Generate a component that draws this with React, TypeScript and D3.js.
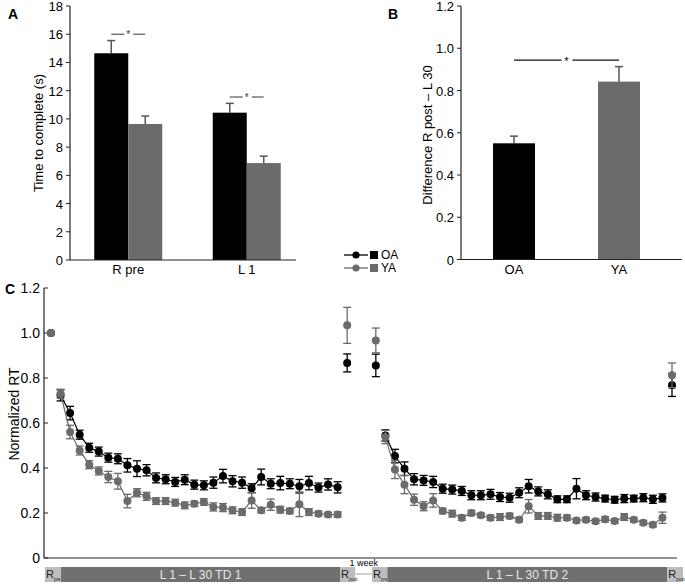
import React from 'react';
import * as d3 from 'd3';

const FONT = '"Liberation Sans", Arial, sans-serif';
const BLACK = '#000000';
const GRAY = '#6b6b6b';
const ERRGRAY = '#555555';

// ---------- Panel A ----------
const catsA = ['R pre', 'L 1'];
const meanA_OA = [14.65, 10.44];
const errA_OA = [0.9, 0.66];
const meanA_YA = [9.64, 6.87];
const errA_YA = [0.56, 0.49];
const ticksA = [0, 2, 4, 6, 8, 10, 12, 14, 16, 18];
const sigA = [16.0, 11.55];

// ---------- Panel B ----------
const catsB = ['OA', 'YA'];
const meanB = [0.55, 0.842];
const errB = [0.034, 0.071];
const ticksB = [0, 0.2, 0.4, 0.6, 0.8, 1.0, 1.2];
const sigB = 0.944;

// ---------- Panel C ----------
const ticksC = [0, 0.2, 0.4, 0.6, 0.8, 1.0, 1.2];
const rpre1_OA = 1.0;
const rpre1_YA = 1.0;
const oa1 = [0.723, 0.644, 0.548, 0.49, 0.473, 0.446, 0.441, 0.412, 0.397, 0.39, 0.356, 0.35, 0.338, 0.348, 0.326, 0.323, 0.335, 0.364, 0.341, 0.335, 0.31, 0.36, 0.33, 0.333, 0.33, 0.319, 0.333, 0.313, 0.327, 0.314];
const oa1Err = [0.025, 0.03, 0.02, 0.02, 0.02, 0.02, 0.022, 0.03, 0.035, 0.025, 0.022, 0.02, 0.02, 0.022, 0.02, 0.02, 0.025, 0.03, 0.025, 0.025, 0.02, 0.035, 0.022, 0.03, 0.022, 0.03, 0.03, 0.02, 0.025, 0.025];
const ya1 = [0.73, 0.56, 0.478, 0.415, 0.387, 0.36, 0.341, 0.253, 0.29, 0.274, 0.253, 0.253, 0.246, 0.234, 0.241, 0.249, 0.227, 0.224, 0.212, 0.204, 0.256, 0.212, 0.237, 0.215, 0.209, 0.239, 0.204, 0.197, 0.193, 0.193];
const ya1Err = [0.02, 0.03, 0.02, 0.018, 0.018, 0.025, 0.035, 0.03, 0.018, 0.018, 0.015, 0.015, 0.015, 0.015, 0.012, 0.015, 0.018, 0.018, 0.015, 0.015, 0.035, 0.012, 0.025, 0.015, 0.012, 0.055, 0.015, 0.012, 0.01, 0.012];
const rpost1_OA = 0.867;
const rpost1_OAErr = 0.04;
const rpost1_YA = 1.034;
const rpost1_YAErr = 0.08;
const rpre2_OA = 0.856;
const rpre2_OAErr = 0.05;
const rpre2_YA = 0.967;
const rpre2_YAErr = 0.055;
const oa2 = [0.545, 0.453, 0.397, 0.35, 0.345, 0.338, 0.308, 0.304, 0.298, 0.279, 0.279, 0.283, 0.271, 0.268, 0.29, 0.319, 0.296, 0.283, 0.261, 0.261, 0.308, 0.279, 0.271, 0.264, 0.259, 0.264, 0.264, 0.268, 0.261, 0.267];
const oa2Err = [0.025, 0.03, 0.03, 0.025, 0.022, 0.025, 0.02, 0.02, 0.02, 0.02, 0.02, 0.022, 0.02, 0.02, 0.022, 0.03, 0.02, 0.02, 0.015, 0.015, 0.045, 0.02, 0.018, 0.015, 0.015, 0.018, 0.015, 0.018, 0.018, 0.018];
const ya2 = [0.538, 0.393, 0.326, 0.259, 0.23, 0.256, 0.209, 0.197, 0.179, 0.2, 0.19, 0.179, 0.182, 0.187, 0.17, 0.23, 0.187, 0.187, 0.179, 0.179, 0.167, 0.17, 0.163, 0.172, 0.164, 0.182, 0.17, 0.157, 0.148, 0.179];
const ya2Err = [0.03, 0.04, 0.04, 0.025, 0.02, 0.03, 0.012, 0.015, 0.012, 0.012, 0.01, 0.012, 0.015, 0.012, 0.01, 0.03, 0.015, 0.015, 0.015, 0.012, 0.01, 0.01, 0.01, 0.012, 0.01, 0.015, 0.01, 0.01, 0.01, 0.025];
const rpost2_OA = 0.768;
const rpost2_OAErr = 0.05;
const rpost2_YA = 0.812;
const rpost2_YAErr = 0.055;

const barLabels = ['L 1 \u2013 L 30 TD 1', 'L 1 \u2013 L 30 TD 2'];

type Pt = { i: number; v: number; e: number };

function buildSeries(
  rpre1: number, s1: number[], e1: number[], rpost1: number, rpost1e: number,
  rpre2: number, rpre2e: number, s2: number[], e2: number[], rpost2: number, rpost2e: number
) {
  const first: Pt[] = s1.map((v, k) => ({ i: 1 + k, v, e: e1[k] }));
  const second: Pt[] = s2.map((v, k) => ({ i: 35 + k, v, e: e2[k] }));
  const singles: Pt[] = [
    { i: 0, v: rpre1, e: 0 },
    { i: 31, v: rpost1, e: rpost1e },
    { i: 34, v: rpre2, e: rpre2e },
    { i: 65, v: rpost2, e: rpost2e },
  ];
  return { first, second, singles };
}

const seriesOA = buildSeries(rpre1_OA, oa1, oa1Err, rpost1_OA, rpost1_OAErr, rpre2_OA, rpre2_OAErr, oa2, oa2Err, rpost2_OA, rpost2_OAErr);
const seriesYA = buildSeries(rpre1_YA, ya1, ya1Err, rpost1_YA, rpost1_YAErr, rpre2_YA, rpre2_YAErr, ya2, ya2Err, rpost2_YA, rpost2_YAErr);

function PanelA() {
  const x0 = 70, x1 = 296;
  const y = d3.scaleLinear().domain([0, 18]).range([260, 6]);
  const xc = d3.scaleBand().domain(catsA).range([69, 306]);
  const bw = 34;
  const centers = catsA.map((c) => (xc(c) as number) + xc.bandwidth() / 2);
  return (
    <g>
      <text x={8} y={19} fontFamily={FONT} fontWeight="bold" fontSize={14}>A</text>
      {catsA.map((c, k) => {
        const cx = centers[k];
        const items = [
          { v: meanA_OA[k], e: errA_OA[k], col: BLACK, x: cx - bw },
          { v: meanA_YA[k], e: errA_YA[k], col: GRAY, x: cx },
        ];
        return (
          <g key={c}>
            {items.map((it, j) => (
              <g key={j}>
                <line x1={it.x + bw / 2} x2={it.x + bw / 2} y1={y(it.v)} y2={y(it.v + it.e)} stroke={ERRGRAY} strokeWidth={1.5} />
                <line x1={it.x + bw / 2 - 4} x2={it.x + bw / 2 + 4} y1={y(it.v + it.e)} y2={y(it.v + it.e)} stroke={ERRGRAY} strokeWidth={1.5} />
                <rect x={it.x} y={y(it.v)} width={bw} height={y(0) - y(it.v)} fill={it.col} />
              </g>
            ))}
            <line x1={cx - bw / 2} x2={cx - 4} y1={y(sigA[k])} y2={y(sigA[k])} stroke={ERRGRAY} strokeWidth={1.2} />
            <line x1={cx + 5} x2={cx + bw / 2} y1={y(sigA[k])} y2={y(sigA[k])} stroke={ERRGRAY} strokeWidth={1.2} />
            <text x={cx} y={y(sigA[k]) + 4} textAnchor="middle" fontFamily={FONT} fontSize={10} fill="#333">*</text>
            <text x={cx} y={274} textAnchor="middle" fontFamily={FONT} fontSize={13}>{c}</text>
          </g>
        );
      })}
      <line x1={x0} x2={x0} y1={y(18)} y2={y(0)} stroke="#222" strokeWidth={1.2} />
      <line x1={x0} x2={x1} y1={y(0)} y2={y(0)} stroke="#222" strokeWidth={1.2} />
      {ticksA.map((t) => (
        <g key={t}>
          <line x1={x0 - 4} x2={x0} y1={y(t)} y2={y(t)} stroke="#222" />
          <text x={x0 - 7} y={y(t) + 5} textAnchor="end" fontFamily={FONT} fontSize={13}>{t}</text>
        </g>
      ))}
      <text transform={`translate(43,${133}) rotate(-90)`} textAnchor="middle" fontFamily={FONT} fontSize={13}>Time to complete (s)</text>
    </g>
  );
}

function PanelB() {
  const x0 = 461, x1 = 682;
  const y = d3.scaleLinear().domain([0, 1.2]).range([259.5, 6]);
  const xc = d3.scaleBand().domain(catsB).range([461, 672]).paddingInner(0.6).paddingOuter(0.305);
  const bw = xc.bandwidth();
  const cols = [BLACK, GRAY];
  const cx = catsB.map((c) => (xc(c) as number) + bw / 2);
  return (
    <g>
      <text x={388} y={19} fontFamily={FONT} fontWeight="bold" fontSize={14}>B</text>
      {catsB.map((c, k) => (
        <g key={c}>
          <line x1={cx[k]} x2={cx[k]} y1={y(meanB[k])} y2={y(meanB[k] + errB[k])} stroke={ERRGRAY} strokeWidth={1.5} />
          <line x1={cx[k] - 4} x2={cx[k] + 4} y1={y(meanB[k] + errB[k])} y2={y(meanB[k] + errB[k])} stroke={ERRGRAY} strokeWidth={1.5} />
          <rect x={xc(c)} y={y(meanB[k])} width={bw} height={y(0) - y(meanB[k])} fill={cols[k]} />
          <text x={cx[k]} y={274} textAnchor="middle" fontFamily={FONT} fontSize={13}>{c}</text>
        </g>
      ))}
      <line x1={cx[0]} x2={(cx[0] + cx[1]) / 2 - 5} y1={y(sigB)} y2={y(sigB)} stroke="#111" strokeWidth={1.2} />
      <line x1={(cx[0] + cx[1]) / 2 + 6} x2={cx[1]} y1={y(sigB)} y2={y(sigB)} stroke="#111" strokeWidth={1.2} />
      <text x={(cx[0] + cx[1]) / 2} y={y(sigB) + 5} textAnchor="middle" fontFamily={FONT} fontSize={11}>*</text>
      <line x1={x0} x2={x0} y1={y(1.2)} y2={y(0)} stroke="#222" strokeWidth={1.2} />
      <line x1={x0} x2={x1} y1={y(0)} y2={y(0)} stroke="#222" strokeWidth={1.2} />
      {ticksB.map((t) => (
        <g key={t}>
          <line x1={x0 - 4} x2={x0} y1={y(t)} y2={y(t)} stroke="#222" />
          <text x={x0 - 7} y={y(t) + 5} textAnchor="end" fontFamily={FONT} fontSize={13}>{t === 0 ? '0' : t.toFixed(1)}</text>
        </g>
      ))}
      <text transform={`translate(432,${135}) rotate(-90)`} textAnchor="middle" fontFamily={FONT} fontSize={13}>{'Difference  R post \u2013 L 30'}</text>
    </g>
  );
}

function Legend() {
  const rows = [
    { name: 'OA', col: BLACK, y: 255 },
    { name: 'YA', col: GRAY, y: 268 },
  ];
  return (
    <g>
      {rows.map((r) => (
        <g key={r.name}>
          <line x1={344} x2={368} y1={r.y} y2={r.y} stroke={r.col} strokeWidth={1.3} />
          <circle cx={356} cy={r.y} r={3.6} fill={r.col} />
          <rect x={370} y={r.y - 4} width={8} height={8} fill={r.col} />
          <text x={381} y={r.y + 4} fontFamily={FONT} fontSize={12}>{r.name}</text>
        </g>
      ))}
    </g>
  );
}

function PanelC() {
  const x = d3.scaleLinear().domain([0, 65]).range([51, 672]);
  const y = d3.scaleLinear().domain([0, 1.2]).range([558, 288]);
  const x0 = 44;
  const line = d3.line<Pt>().x((d) => x(d.i)).y((d) => y(d.v));
  const drawSeries = (s: typeof seriesOA, col: string, key: string) => {
    const all = [...s.first, ...s.second, ...s.singles];
    return (
      <g key={key}>
        <path d={line(s.first) || ''} fill="none" stroke={col} strokeWidth={1.2} />
        <path d={line(s.second) || ''} fill="none" stroke={col} strokeWidth={1.2} />
        {all.map((d, k) => (
          d.e > 0 ? (
            <g key={k}>
              <line x1={x(d.i)} x2={x(d.i)} y1={y(d.v - d.e)} y2={y(d.v + d.e)} stroke={col} strokeWidth={1.3} />
              <line x1={x(d.i) - 4} x2={x(d.i) + 4} y1={y(d.v - d.e)} y2={y(d.v - d.e)} stroke={col} strokeWidth={1.3} />
              <line x1={x(d.i) - 4} x2={x(d.i) + 4} y1={y(d.v + d.e)} y2={y(d.v + d.e)} stroke={col} strokeWidth={1.3} />
            </g>
          ) : null
        ))}
        {all.map((d, k) => (
          <circle key={'c' + k} cx={x(d.i)} cy={y(d.v)} r={4} fill={col} />
        ))}
      </g>
    );
  };
  const segs = [
    { a: -0.63, b: 1.05, kind: 'light', sub: 'pre' },
    { a: 1.05, b: 30.25, kind: 'dark', label: barLabels[0] },
    { a: 30.25, b: 31.85, kind: 'light', sub: 'post' },
    { a: 33.6, b: 35.2, kind: 'light', sub: 'pre' },
    { a: 35.2, b: 64.5, kind: 'dark', label: barLabels[1] },
    { a: 64.5, b: 66.15, kind: 'light', sub: 'post' },
  ];
  return (
    <g>
      <text x={5} y={294} fontFamily={FONT} fontWeight="bold" fontSize={14}>C</text>
      <line x1={x0} x2={x0} y1={y(1.2)} y2={y(0)} stroke="#222" strokeWidth={1.2} />
      <line x1={x0} x2={677} y1={y(0)} y2={y(0)} stroke="#222" strokeWidth={1.2} />
      {ticksC.map((t) => (
        <g key={t}>
          <line x1={x0} x2={x0 + 4} y1={y(t)} y2={y(t)} stroke="#222" />
          <text x={x0 - 4} y={y(t) + 5} textAnchor="end" fontFamily={FONT} fontSize={14}>{t === 0 ? '0' : t.toFixed(1)}</text>
        </g>
      ))}
      <text transform={`translate(19,${414}) rotate(-90)`} textAnchor="middle" fontFamily={FONT} fontSize={14}>Normalized RT</text>
      {drawSeries(seriesOA, BLACK, 'oa')}
      {drawSeries(seriesYA, GRAY, 'ya')}
      {segs.map((s, k) => (
        <g key={k}>
          <rect x={x(s.a)} y={567} width={x(s.b) - x(s.a)} height={15} fill={s.kind === 'dark' ? '#707070' : '#bdbdbd'} />
          {s.kind === 'dark' ? (
            <text x={(x(s.a) + x(s.b)) / 2} y={579} textAnchor="middle" fontFamily={FONT} fontSize={12} fill="#e8e8e8">{s.label}</text>
          ) : (
            <text x={x(s.a) + 1} y={578} fontFamily={FONT} fontSize={11} fill="#222">R<tspan fontSize={4.5} dy={3}>{s.sub}</tspan></text>
          )}
        </g>
      ))}
      <line x1={x(31.9)} x2={x(33.55)} y1={574} y2={574} stroke="#888" strokeWidth={0.8} />
      <text x={(x(31.9) + x(33.55)) / 2} y={566} textAnchor="middle" fontFamily={FONT} fontSize={9}>1 week</text>
    </g>
  );
}

export default function App() {
  return (
    <svg width={685} height={585} style={{ position: 'absolute', left: 0, top: 0, background: '#fff' }}>
      <rect width={685} height={585} fill="#fff" />
      <PanelA />
      <PanelB />
      <Legend />
      <PanelC />
    </svg>
  );
}
